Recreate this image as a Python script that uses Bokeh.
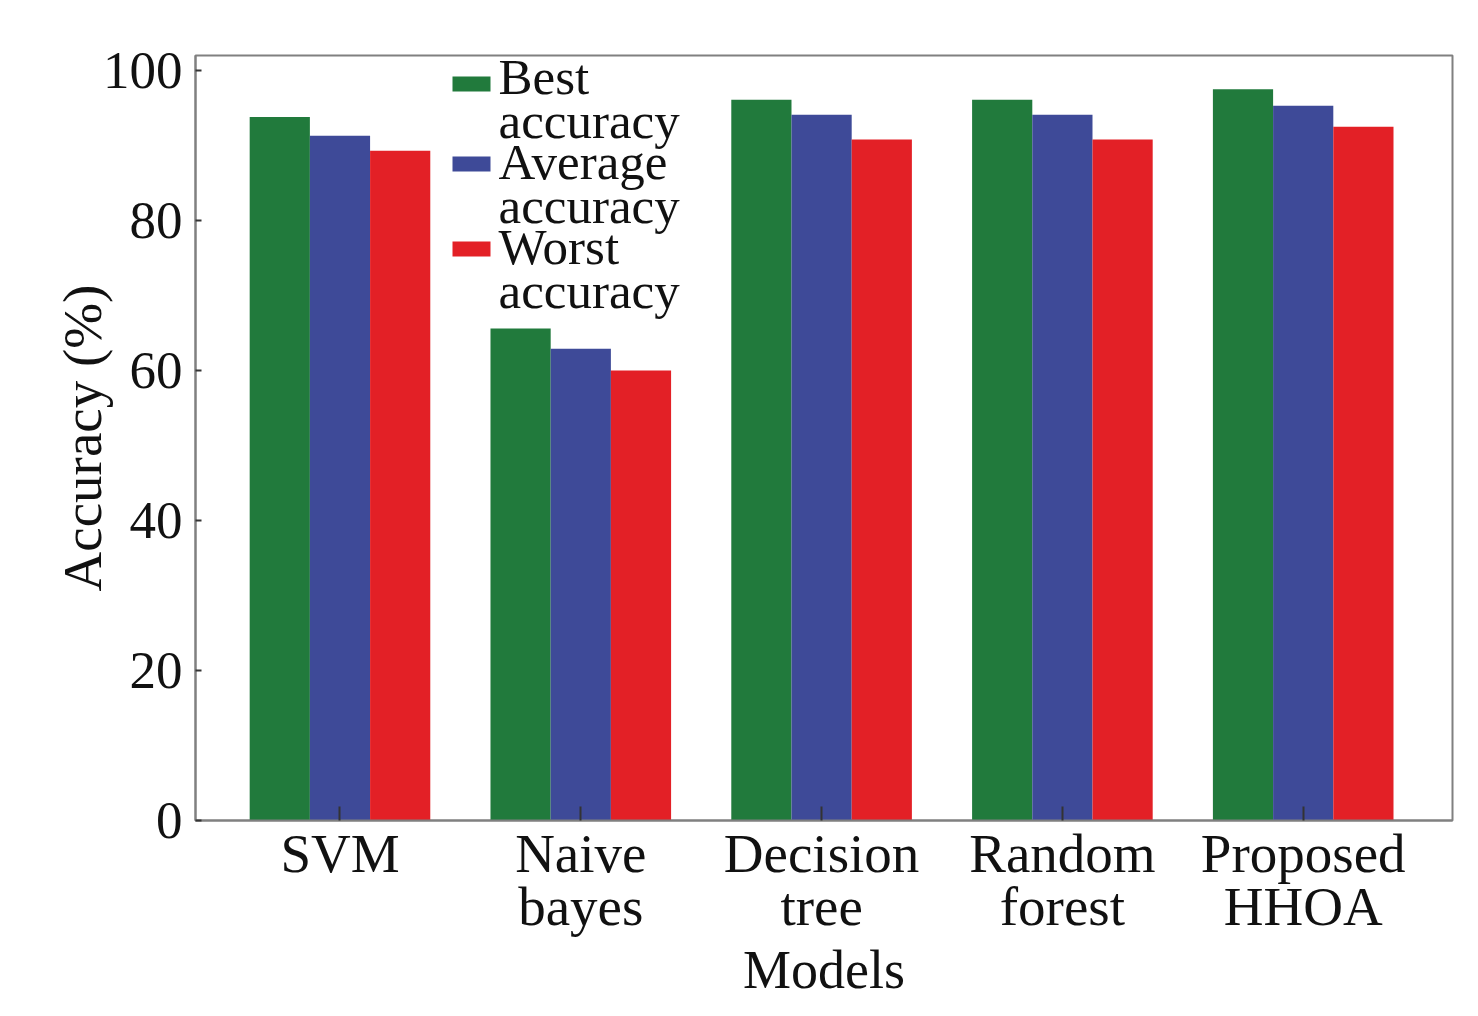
from bokeh.plotting import figure
from bokeh.models import FixedTicker, Range1d, Label, BoxAnnotation
from bokeh.embed import file_html
from bokeh.resources import INLINE

models = ["SVM", "Naive\nbayes", "Decision\ntree", "Random\nforest", "Proposed\nHHOA"]
best = [93.8, 65.6, 96.1, 96.1, 97.5]
average = [91.3, 62.9, 94.1, 94.1, 95.3]
worst = [89.3, 60.0, 90.8, 90.8, 92.5]
series_names = [["Best", "accuracy"], ["Average", "accuracy"], ["Worst", "accuracy"]]
colors = ["#217a3c", "#3e4a98", "#e32026"]
yticks = [0, 20, 40, 60, 80, 100]

FONT = "Liberation Serif"
W, H = 1470, 1008
FL, FR, FT, FB = 195, 1452, 55, 820  # frame edges in page pixels
X0, X1, Y0, Y1 = 0.4, 5.62, 0, 102
xs = list(range(1, len(models) + 1))
bw = 0.25

p = figure(width=W, height=H, output_backend="svg", toolbar_location=None,
           x_range=Range1d(X0, X1), y_range=Range1d(Y0, Y1),
           min_border_left=FL, min_border_right=W - FR, min_border_top=FT, min_border_bottom=H - FB)

for i, (vals, c) in enumerate(zip([best, average, worst], colors)):
    p.vbar(x=[x + (i - 1) * bw for x in xs], top=vals, width=bw, bottom=0,
           fill_color=c, line_color=None)

p.grid.visible = False
p.outline_line_color = "#808080"
p.outline_line_width = 2

p.xaxis.ticker = FixedTicker(ticks=xs)
p.xaxis.major_label_overrides = {x: m for x, m in zip(xs, models)}
p.yaxis.ticker = FixedTicker(ticks=yticks)
p.xaxis.minor_tick_line_color = None
p.yaxis.minor_tick_line_color = None
for ax in [p.xaxis[0], p.yaxis[0]]:
    ax.axis_line_color = "#808080"
    ax.axis_line_width = 2
    ax.major_tick_out = 0
    ax.major_tick_line_color = "#333333"
    ax.major_tick_line_width = 2
    ax.major_label_text_font = FONT
    ax.major_label_text_color = "#111111"
    ax.axis_label_text_font = FONT
    ax.axis_label_text_font_style = "normal"
    ax.axis_label_text_color = "#111111"
p.xaxis.major_tick_in = 14
p.yaxis.major_tick_in = 6
p.xaxis.major_label_text_font_size = "55px"
p.xaxis.major_label_text_line_height = 0.88
p.yaxis.major_label_text_font_size = "53px"
p.xaxis.axis_label = "Models"
p.yaxis.axis_label = "Accuracy (%)"
p.xaxis.axis_label_text_font_size = "54px"
p.yaxis.axis_label_text_font_size = "55px"
p.xaxis.major_label_standoff = 2
p.yaxis.major_label_standoff = 13
p.xaxis.axis_label_standoff = 0
p.yaxis.axis_label_standoff = -13


def dx(px):
    return X0 + (px - FL) * (X1 - X0) / (FR - FL)


def dy(py):
    return Y0 + (FB - py) * (Y1 - Y0) / (FB - FT)


# legend drawn as annotations (swatch + two text lines per series)
sw_left, sw_right, text_x = 452, 490, 498
sw_tops = [76, 156, 241]
baselines = [(76, 120), (161, 205), (246, 290)]
for c, (l1, l2), top, (b1, b2) in zip(colors, series_names, sw_tops, baselines):
    p.add_layout(BoxAnnotation(left=dx(sw_left), right=dx(sw_right), top=dy(top), bottom=dy(top + 15),
                               fill_color=c, fill_alpha=1, line_color=None, level="overlay"))
    for txt, b in ((l1, b1), (l2, b2)):
        p.add_layout(Label(x=dx(text_x), y=dy(b), text=txt, text_font=FONT, text_font_size="51px",
                           text_color="#111111", text_baseline="alphabetic", text_align="left"))

open("out.html", "w").write(file_html(p, INLINE))
